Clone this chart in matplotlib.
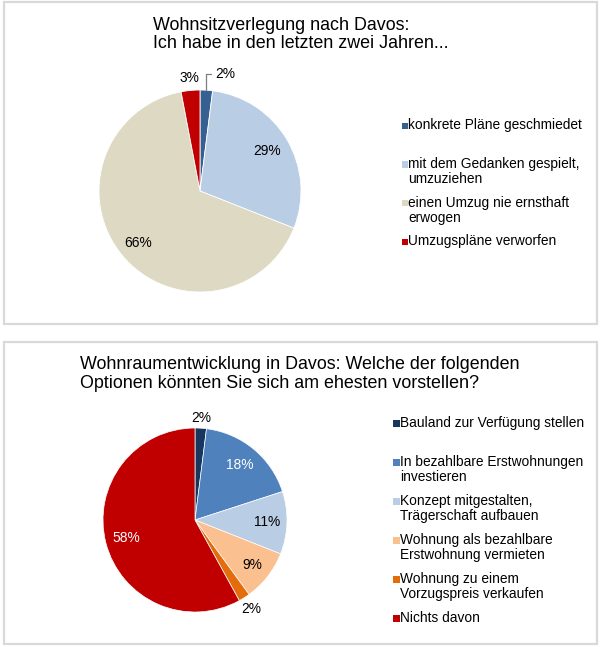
import matplotlib
matplotlib.use("Agg")
import matplotlib.pyplot as plt
import numpy as np
from matplotlib.patches import Rectangle

plt.rcParams['font.family'] = ['Liberation Sans', 'DejaVu Sans']

# ---------------- data ----------------
title1 = "Wohnsitzverlegung nach Davos:\nIch habe in den letzten zwei Jahren..."
pie1_labels = ["konkrete Pläne geschmiedet",
               "mit dem Gedanken gespielt,\numzuziehen",
               "einen Umzug nie ernsthaft\nerwogen",
               "Umzugspläne verworfen"]
pie1_values = [2, 29, 66, 3]
pie1_colors = ["#376092", "#B9CDE5", "#DDD9C3", "#C00000"]

title2 = ("Wohnraumentwicklung in Davos: Welche der folgenden\n"
          "Optionen könnten Sie sich am ehesten vorstellen?")
pie2_labels = ["Bauland zur Verfügung stellen",
               "In bezahlbare Erstwohnungen\ninvestieren",
               "Konzept mitgestalten,\nTrägerschaft aufbauen",
               "Wohnung als bezahlbare\nErstwohnung vermieten",
               "Wohnung zu einem\nVorzugspreis verkaufen",
               "Nichts davon"]
pie2_values = [2, 18, 11, 9, 2, 58]
pie2_colors = ["#17375E", "#4F81BD", "#B9CDE5", "#FAC090", "#E46C0A", "#C00000"]
pie2_label_colors = ["black", "white", "black", "black", "black", "white"]

# ---------------- layout ----------------
W, H = 600, 647
fig = plt.figure(figsize=(W / 100, H / 100), dpi=100)
fig.patch.set_facecolor("white")

def fx(x):
    return x / W

def fy(y):
    return 1 - y / H

FS = 9.9
LINE = 15.3
TFS = 12.9

def panel(x0, y0, x1, y1):
    fig.add_artist(Rectangle((fx(x0), fy(y1)), fx(x1) - fx(x0), fy(y0) - fy(y1),
                             transform=fig.transFigure, fill=False,
                             edgecolor="#D9D9D9", linewidth=1.6))

def pie_ax(cx, cy, r, L=1.35):
    side = 2 * r * L
    ax = fig.add_axes([fx(cx - r * L), fy(cy + r * L), side / W, side / H])
    return ax

def legend(labels, colors, x_sq, x_txt, y_first, step):
    for i, (lab, col) in enumerate(zip(labels, colors)):
        yc = y_first + i * step
        n = lab.count("\n") + 1
        fig.add_artist(Rectangle((fx(x_sq), fy(yc + 3.8)), 6.5 / W, 6.5 / H,
                                 transform=fig.transFigure, facecolor=col,
                                 edgecolor="none"))
        fig.text(fx(x_txt), fy(yc + (n - 1) * LINE / 2), lab, fontsize=FS,
                 ha="left", va="center", linespacing=1.1, color="black")

def mid_xy(w, d):
    t = np.deg2rad((w.theta1 + w.theta2) / 2)
    return d * np.cos(t), d * np.sin(t)

# ---------------- panel 1 ----------------
panel(4, 2, 597, 324)
fig.text(fx(153), fy(34.3), title1, fontsize=TFS, ha="left", va="center",
         linespacing=1.12)
ax1 = pie_ax(200, 191, 101)
wedges1, _ = ax1.pie(pie1_values, colors=pie1_colors, startangle=90,
                     counterclock=False, radius=1,
                     wedgeprops=dict(edgecolor="white", linewidth=0.6))
ax1.set_xlim(-1.35, 1.35)
ax1.set_ylim(-1.35, 1.35)
dists1 = [None, 0.77, 0.80, 1.12]
for w, v, d in zip(wedges1, pie1_values, dists1):
    if d is None:
        ex, ey = mid_xy(w, 1.0)
        ax1.annotate(f"{v}%", xy=(ex, ey), xytext=(ex + 0.09, 1.16),
                     fontsize=FS, ha="left", va="center",
                     arrowprops=dict(arrowstyle="-", color="#7F7F7F", lw=0.9,
                                     shrinkA=1, shrinkB=0,
                                     connectionstyle="angle,angleA=0,angleB=90,rad=0"))
    else:
        x, y = mid_xy(w, d)
        ax1.text(x, y, f"{v}%", fontsize=FS, ha="center", va="center")
legend(pie1_labels, pie1_colors, 401.5, 408, 125.5, 38.6)

# ---------------- panel 2 ----------------
panel(4, 342, 597, 644)
fig.text(fx(80), fy(373.8), title2, fontsize=TFS, ha="left", va="center",
         linespacing=1.12)
ax2 = pie_ax(195, 520, 92)
wedges2, _ = ax2.pie(pie2_values, colors=pie2_colors, startangle=90,
                     counterclock=False, radius=1,
                     wedgeprops=dict(edgecolor="white", linewidth=0.5))
ax2.set_xlim(-1.35, 1.35)
ax2.set_ylim(-1.35, 1.35)
dists2 = [1.11, 0.77, 0.78, 0.79, 1.14, 0.77]
for w, v, d, c in zip(wedges2, pie2_values, dists2, pie2_label_colors):
    x, y = mid_xy(w, d)
    ax2.text(x, y, f"{v}%", fontsize=FS, ha="center", va="center", color=c)
legend(pie2_labels, pie2_colors, 393, 400.5, 423, 39.0)

fig.savefig("out.png", dpi=100, facecolor="white")
